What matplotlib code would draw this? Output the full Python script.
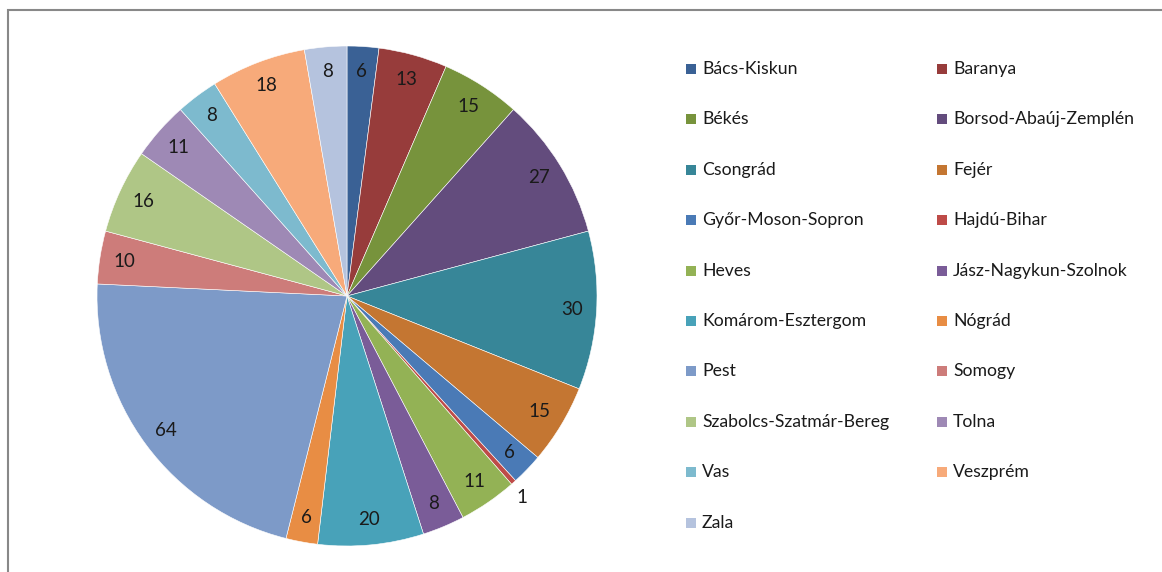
import matplotlib
matplotlib.use("Agg")
import matplotlib.pyplot as plt
from matplotlib.patches import Rectangle

# county counts
counties = ["Bács-Kiskun", "Baranya", "Békés", "Borsod-Abaúj-Zemplén", "Csongrád",
            "Fejér", "Győr-Moson-Sopron", "Hajdú-Bihar", "Heves", "Jász-Nagykun-Szolnok",
            "Komárom-Esztergom", "Nógrád", "Pest", "Somogy", "Szabolcs-Szatmár-Bereg",
            "Tolna", "Vas", "Veszprém", "Zala"]
counts = [6, 13, 15, 27, 30, 15, 6, 1, 11, 8, 20, 6, 64, 10, 16, 11, 8, 18, 8]
colors = ["#3A6195", "#973C3B", "#77933C", "#634C7D", "#378698", "#C47632",
          "#4A7AB6", "#BE4B48", "#93B255", "#7A5C98", "#48A2B9", "#E88D44",
          "#7D9AC8", "#CD7C7A", "#AFC686", "#9E89B5", "#7DBACE", "#F7AA7A", "#B5C3DE"]

plt.rcParams['font.family'] = ['Lato', 'DejaVu Sans']

W, H = 1162, 572
fig = plt.figure(figsize=(W / 100, H / 100), dpi=100)

# outer chart frame (cut off at right and bottom)
fig.add_artist(Rectangle((8 / W, -0.1), 1.2, (H - 10) / H + 0.1, transform=fig.transFigure,
                         fill=False, edgecolor="#888888", linewidth=1.5))

cx, cy, r = 347, H - 296, 250
ax = fig.add_axes([(cx - r) / W, (cy - r) / H, 2 * r / W, 2 * r / H])
wedges, texts = ax.pie(counts, colors=colors, startangle=90, counterclock=False,
                       radius=1.0, labels=[str(c) for c in counts], labeldistance=0.9,
                       wedgeprops=dict(edgecolor="white", linewidth=0.4),
                       textprops=dict(fontsize=13.5, color="#1a1a1a", ha="center", va="center"))
for t, c in zip(texts, counts):
    t.set_ha("center")
    if c == 1:
        x, y = t.get_position()
        t.set_position((x * 1.17, y * 1.2))
ax.set_xlim(-1, 1)
ax.set_ylim(-1, 1)
ax.set_aspect("equal")
ax.axis("off")

# legend, filled row by row in two columns
x0, x1 = 686, 937
y0, dy = 69, 50.4
sq = 10
for i, (name, col) in enumerate(zip(counties, colors)):
    row, c = divmod(i, 2)
    x = x0 + c * (x1 - x0)
    y = y0 + row * dy
    fig.add_artist(Rectangle((x / W, (H - y - sq / 2) / H), sq / W, sq / H,
                             transform=fig.transFigure, facecolor=col, edgecolor="none"))
    fig.text((x + 16) / W, (H - y) / H, name, fontsize=12.7, color="#1a1a1a",
             ha="left", va="center")

fig.savefig("out.png", dpi=100)
